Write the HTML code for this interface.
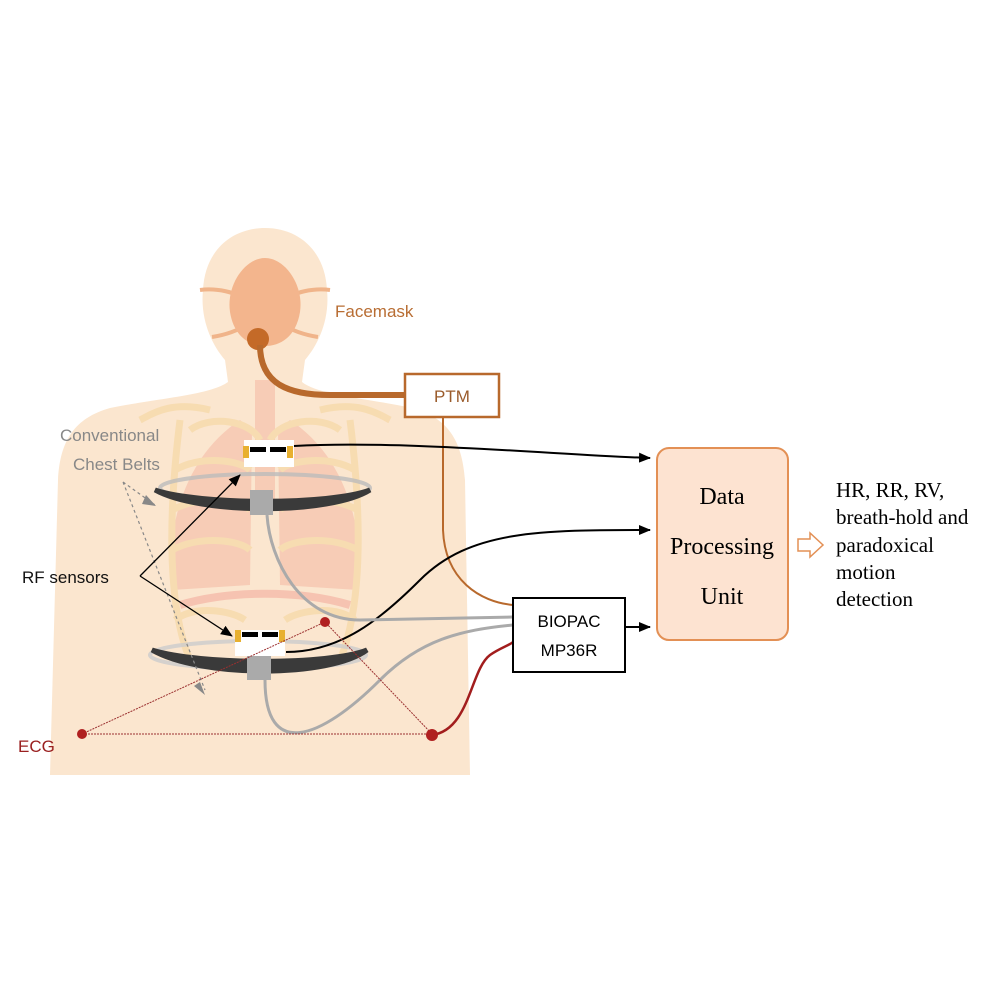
<!DOCTYPE html>
<html><head><meta charset="utf-8"><style>html,body{margin:0;padding:0;background:#fff}svg{display:block}</style></head>
<body>
<svg width="1000" height="1000" viewBox="0 0 1000 1000" xmlns="http://www.w3.org/2000/svg" font-family="Liberation Sans, sans-serif">
<defs>
<marker id="ab" markerWidth="12" markerHeight="10" refX="11" refY="5" orient="auto" markerUnits="userSpaceOnUse"><path d="M0,0 L12,5 L0,10 z" fill="#000"/></marker>
</defs>
<!-- body -->
<path d="M265,228 C232,228 205,250 203,290 C200,320 212,345 225,360 L228,382 C210,395 160,398 110,408 C75,418 60,440 58,480 L50,775 L470,775 L465,480 C462,440 448,418 412,408 C365,398 318,395 302,382 L305,360 C318,345 330,320 327,290 C325,250 298,228 265,228 Z" fill="#fbe6cf"/>
<!-- lungs/ribs -->
<g opacity="0.55">
<path d="M240,420 C210,440 175,480 170,560 L172,590 L250,585 L252,430 Z" fill="#f5b7a3"/>
<path d="M290,420 C320,440 355,480 360,560 L358,590 L280,585 L278,430 Z" fill="#f5b7a3"/>
<rect x="255" y="380" width="20" height="120" fill="#f5b7a3"/>
<path d="M180,605 C230,590 300,590 350,605" stroke="#f3a89a" stroke-width="8" fill="none"/>
<g stroke="#f5d49a" stroke-width="7" fill="none">
<path d="M190,430 C210,415 250,420 260,440"/><path d="M340,430 C320,415 280,420 270,440"/>
<path d="M175,470 C200,455 240,460 250,470"/><path d="M355,470 C330,455 290,460 280,470"/>
<path d="M172,510 C200,495 240,500 250,510"/><path d="M358,510 C330,495 290,500 280,510"/>
<path d="M172,550 C200,535 240,540 250,550"/><path d="M358,550 C330,535 290,540 280,550"/>
<path d="M175,620 C195,605 230,610 245,620"/><path d="M355,620 C335,605 300,610 285,620"/>
<path d="M180,420 C170,500 165,600 190,660"/><path d="M350,420 C360,500 365,600 340,660"/>
<path d="M210,410 C170,400 150,415 140,420"/><path d="M320,410 C360,400 380,415 390,420"/>
</g>
</g>
<!-- facemask -->
<g stroke="#f0b48a" stroke-width="4" fill="none"><path d="M200,290 C215,288 240,292 240,300"/><path d="M330,290 C315,288 290,292 290,300"/><path d="M212,337 C225,335 240,330 245,325"/><path d="M318,337 C305,335 290,330 285,325"/></g>
<path d="M265,258 C245,258 226,285 230,312 C234,337 250,346 265,346 C280,346 296,337 300,312 C304,285 285,258 265,258Z" fill="#f3b58d"/>
<circle cx="258" cy="339" r="11" fill="#c46a28"/>
<path d="M260,345 C260,385 290,395 330,395 L405,395" stroke="#b8692c" stroke-width="6" fill="none"/>
<text x="335" y="317" font-size="17" fill="#b86d33">Facemask</text>
<rect x="405" y="374" width="94" height="43" fill="#fff" stroke="#b8692c" stroke-width="2.5"/>
<text x="452" y="402" font-size="17" fill="#9a5a2a" text-anchor="middle">PTM</text>
<path d="M443,417 L443,530 C445,580 480,602 513,605" stroke="#b8692c" stroke-width="2" fill="none"/>
<!-- belts -->
<ellipse cx="265" cy="488" rx="105" ry="14" fill="none" stroke="#bbb" stroke-width="4" opacity="0.8"/>
<path d="M155,490 C200,515 330,515 370,490 C330,505 200,505 155,490Z" fill="#3a3a3a" stroke="#3a3a3a" stroke-width="5"/>
<rect x="250" y="490" width="23" height="25" fill="#aaa"/>
<ellipse cx="258" cy="655" rx="108" ry="14" fill="none" stroke="#ccc" stroke-width="4" opacity="0.8"/>
<path d="M152,650 C200,678 330,678 367,650 C330,665 200,665 152,650Z" fill="#3a3a3a" stroke="#3a3a3a" stroke-width="5"/>
<rect x="247" y="655" width="24" height="25" fill="#aaa"/>
<!-- sensors -->
<rect x="244" y="440" width="50" height="27" fill="#fff"/>
<rect x="243" y="446" width="6" height="12" fill="#e8b030"/><rect x="287" y="446" width="6" height="12" fill="#e8b030"/>
<rect x="250" y="447" width="16" height="5" fill="#000"/><rect x="270" y="447" width="16" height="5" fill="#000"/>
<rect x="235" y="630" width="50" height="26" fill="#fff"/>
<rect x="235" y="630" width="6" height="12" fill="#e8b030"/><rect x="279" y="630" width="6" height="12" fill="#e8b030"/>
<rect x="242" y="632" width="16" height="5" fill="#000"/><rect x="262" y="632" width="16" height="5" fill="#000"/>
<!-- chest belts labels -->
<text x="60" y="441" font-size="17" fill="#888">Conventional</text>
<text x="73" y="470" font-size="17" fill="#888">Chest Belts</text>
<path d="M123,482 L155,505 M123,482 L205,690" stroke="#888" stroke-width="1.2" stroke-dasharray="3,3" fill="none"/>
<path d="M146,495 L156,506 L142,504Z M200,682 L205,695 L194,686Z" fill="#888"/>
<!-- RF sensors -->
<text x="22" y="583" font-size="17" fill="#111">RF sensors</text>
<path d="M140,576 L240,475" stroke="#000" stroke-width="1.3" marker-end="url(#ab)"/>
<path d="M140,576 L232,636" stroke="#000" stroke-width="1.3" marker-end="url(#ab)"/>
<!-- wires -->
<path d="M294,446 C400,440 560,455 650,458" stroke="#000" stroke-width="2" fill="none" marker-end="url(#ab)"/>
<path d="M286,652 C340,652 380,620 420,580 C470,530 540,530 650,530" stroke="#000" stroke-width="2" fill="none" marker-end="url(#ab)"/>
<path d="M625,627 L650,627" stroke="#000" stroke-width="2" marker-end="url(#ab)"/>
<path d="M267,515 C270,560 300,620 360,620 L513,617" stroke="#aaa" stroke-width="3" fill="none"/>
<path d="M265,680 C265,760 320,740 380,680 C420,640 460,630 513,625" stroke="#aaa" stroke-width="3" fill="none"/>
<path d="M432,735 C470,730 470,670 490,655 C500,648 510,645 513,642" stroke="#a21d1d" stroke-width="2.5" fill="none"/>
<!-- ECG -->
<g stroke="#9b3030" stroke-width="1" stroke-dasharray="2,1" fill="none"><path d="M82,734 L432,734 L325,622 L82,734"/></g>
<circle cx="82" cy="734" r="5" fill="#b02020"/><circle cx="325" cy="622" r="5" fill="#b02020"/><circle cx="432" cy="735" r="6" fill="#b02020"/>
<text x="18" y="752" font-size="17" fill="#9a2020">ECG</text>
<!-- BIOPAC -->
<rect x="513" y="598" width="112" height="74" fill="#fff" stroke="#000" stroke-width="2"/>
<text x="569" y="627" font-size="17" text-anchor="middle" fill="#000">BIOPAC</text>
<text x="569" y="656" font-size="17" text-anchor="middle" fill="#000">MP36R</text>
<!-- DPU -->
<rect x="657" y="448" width="131" height="192" rx="12" fill="#fde3d1" stroke="#e39055" stroke-width="2"/>
<g font-family="Liberation Serif, serif" font-size="24" text-anchor="middle" fill="#000"><text x="722" y="504">Data</text><text x="722" y="554">Processing</text><text x="722" y="604">Unit</text></g>
<path d="M798,539 L810,539 L810,533 L823,545 L810,557 L810,551 L798,551Z" fill="#fff" stroke="#e39055" stroke-width="1.5"/>
<g font-family="Liberation Serif, serif" font-size="21" fill="#000"><text x="836" y="497">HR, RR, RV,</text><text x="836" y="524">breath-hold and</text><text x="836" y="552">paradoxical</text><text x="836" y="579">motion</text><text x="836" y="606">detection</text></g>
</svg>
</body></html>
